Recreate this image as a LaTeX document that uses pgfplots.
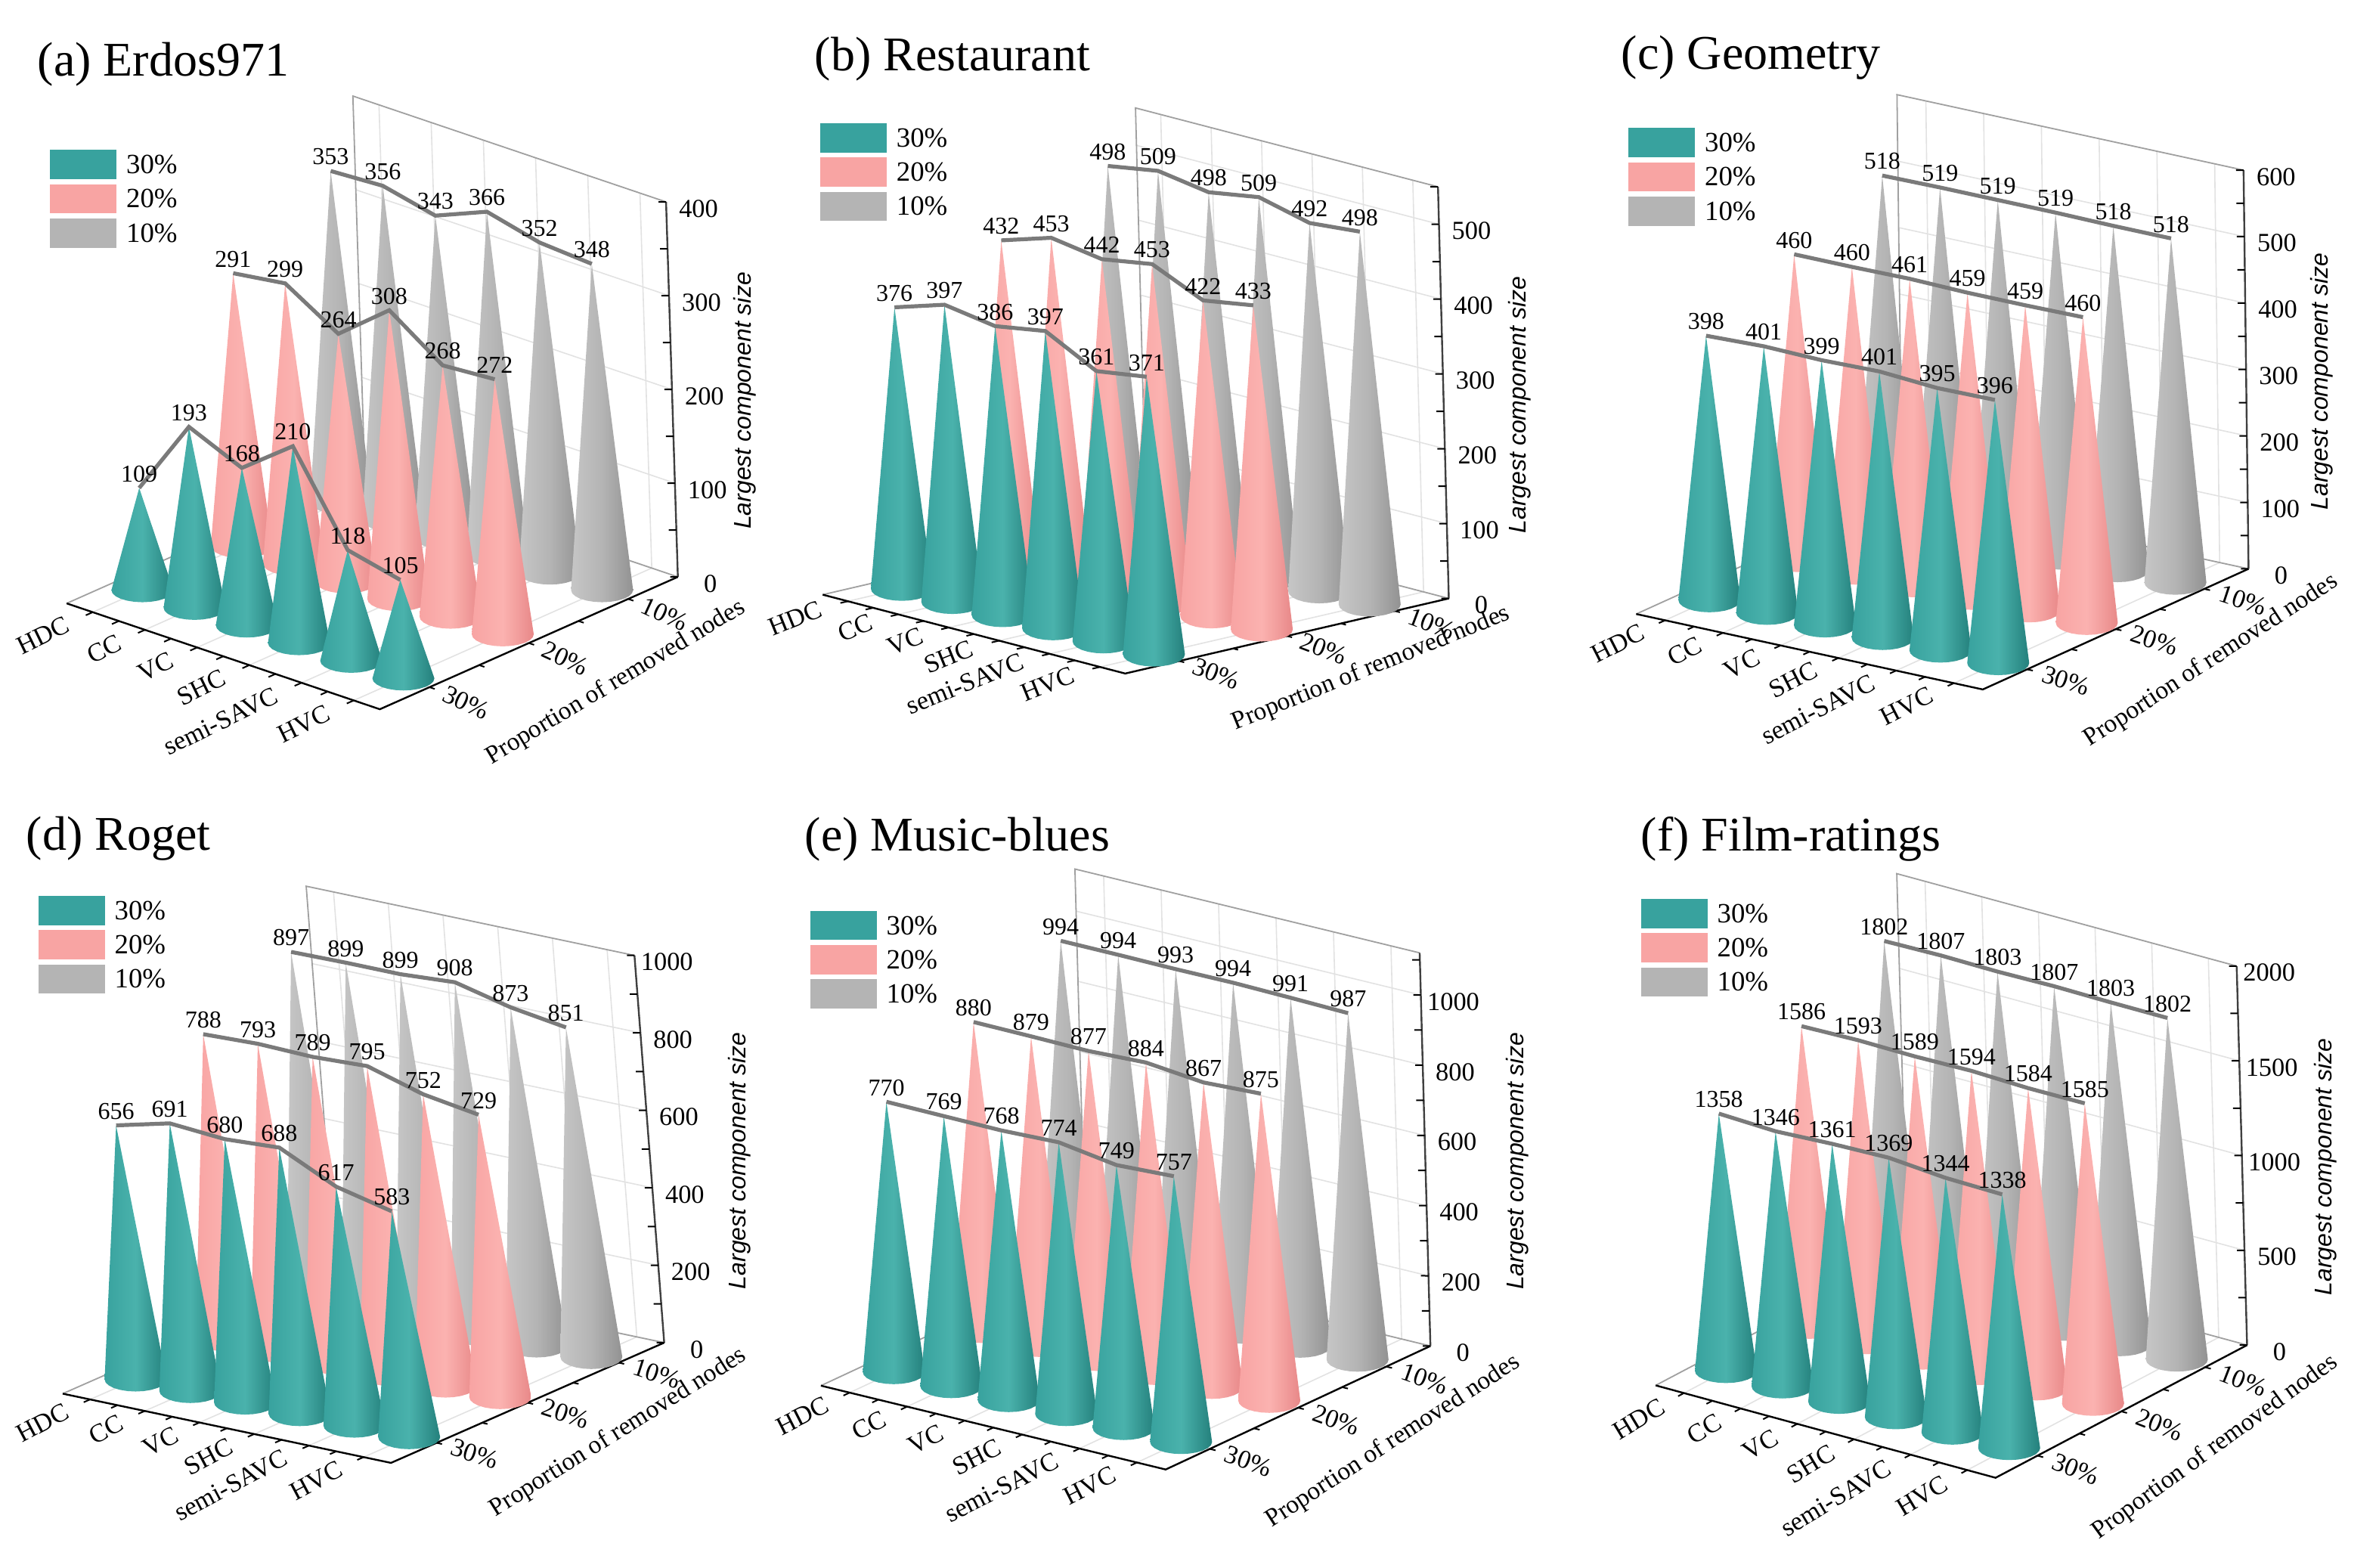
\documentclass[border=0pt]{standalone}
\usepackage{pgfplots}
\pgfplotsset{compat=1.18}
\usepackage{fontspec}
\setmainfont{Liberation Serif}
\newfontfamily\arialfont{Liberation Sans}
\newcommand\fz[1]{\fontsize{#1}{#1}\selectfont}

\definecolor{tealM}{RGB}{56,162,158}
\definecolor{tealL}{RGB}{74,178,172}
\definecolor{tealD}{RGB}{36,128,124}
\definecolor{pinkM}{RGB}{248,164,163}
\definecolor{pinkL}{RGB}{251,178,176}
\definecolor{pinkD}{RGB}{232,136,136}
\definecolor{grayM}{RGB}{180,180,180}
\definecolor{grayL}{RGB}{198,198,198}
\definecolor{grayD}{RGB}{146,146,146}
\definecolor{lineG}{RGB}{122,122,122}
\definecolor{gridG}{RGB}{226,226,226}
\definecolor{wallG}{RGB}{160,160,160}

\def\Wh{41}\def\Hh{16}

% geometry of one panel, in pixels of the reference (screen y downwards)
\newcommand\setgeom[7]{%
  \pgfmathsetmacro\exu{#1}\pgfmathsetmacro\exy{-1*(#2)}%
  \pgfmathsetmacro\eyu{#3}\pgfmathsetmacro\eyy{-1*(#4)}%
  \pgfmathsetmacro\ezu{#5}\pgfmathsetmacro\ezy{-1*(#6)}%
  \pgfmathsetmacro\detxy{\exu*\eyy-\eyu*\exy}%
  \pgfmathsetmacro\ah{\eyy/\detxy}\pgfmathsetmacro\bh{-\exy/\detxy}%
  \pgfmathsetmacro\angx{atan2(\exy,\exu)}%
  \pgfmathsetmacro\angy{atan2(\eyy,\eyu)}%
  \pgfmathsetmacro\xpu{0.25*\exu}\pgfmathsetmacro\xpv{0.25*\exy}%
  \pgfmathsetmacro\ypu{0.25*\eyu}\pgfmathsetmacro\ypv{0.25*\eyy}%
  \pgfmathsetmacro\zpu{0.25*\ezu}\pgfmathsetmacro\zpv{0.25*\ezy}%
  \pgfmathsetmacro\ztx{5.5-10*\ah}\pgfmathsetmacro\zty{2.5-10*\bh}%
  \def\zmax{#7}%
  \pgfmathsetmacro\ztitle{0.47*#7}%
}

\pgfplotsset{
  panel/.style={hide axis, clip=false, anchor=origin,
    x={(\xpu pt,\xpv pt)}, y={(\ypu pt,\ypv pt)}, z={(\zpu pt,\zpv pt)},
    xmin=-0.5, xmax=5.5, ymin=-0.5, ymax=2.5, zmin=0, zmax=\zmax,
    /pgf/number format/assume math mode=true,
    /pgf/number format/1000 sep={}},
  gridl/.style={color=gridG, line width=0.4pt, mark=none},
  walll/.style={color=wallG, line width=0.45pt, mark=none},
  axisl/.style={color=black, line width=0.6pt, mark=none},
  zaxisl/.style={color=black!75, line width=0.6pt, mark=none},
  tickl/.style={color=black, line width=0.5pt, mark=none},
  rowline/.style={color=lineG, line width=1.3pt, mark=none},
  c30/.style={draw=none, left color=tealM, right color=tealD, middle color=tealL},
  c20/.style={draw=none, left color=pinkM, right color=pinkD, middle color=pinkL},
  c10/.style={draw=none, left color=grayL, right color=grayD, middle color=grayM},
  vlabels/.style={draw=none, mark=none, nodes near coords, point meta=z,
    every node near coord/.append style={font=\fz{8}, text=black, inner sep=0pt, anchor=south, yshift=1.8pt}},
}
\tikzset{
  xlab/.style={font=\fz{8.6}, anchor=east, inner sep=1pt},
  ylab/.style={font=\fz{8.6}, anchor=west, inner sep=1pt},
  zlab/.style={font=\fz{8.6}, anchor=center, xshift=10.75pt, yshift=-2.2pt, inner sep=0pt},
  ztit/.style={font=\arialfont\itshape\fz{8}, anchor=center, inner sep=0pt},
  ytit/.style={font=\fz{8.4}, anchor=center, inner sep=0pt},
}

\newcommand\xname[1]{\ifcase#1 HDC\or CC\or VC\or SHC\or semi-SAVC\or HVC\fi}
\newcommand\yname[1]{\ifcase#1 30\%\or 20\%\or 10\%\fi}

% one cone: i, j, value, style
\newcommand\cone[4]{%
  \gdef\conepts{}%
  \foreach \aa in {180,195,...,360}{%
    \pgfmathsetmacro\du{\Wh*cos(\aa)}%
    \pgfmathsetmacro\dy{\Hh*sin(\aa)}%
    \pgfmathsetmacro\pa{#1+(\du*\eyy-\eyu*\dy)/\detxy}%
    \pgfmathsetmacro\pb{#2+(\exu*\dy-\exy*\du)/\detxy}%
    \xdef\conepts{\conepts(\pa,\pb,0) }%
  }%
  \edef\tmp{\noexpand\addplot3[#4] coordinates {(#1,#2,#3) \conepts};}%
  \tmp
}
\newcommand\conerow[3]{%
  \foreach \vv [count=\kk from 0] in {#3}{\cone{\kk}{#1}{\vv}{#2}}%
}

% floor, back wall, axes, ticks and their labels
\newcommand\cframe[3]{%
  \foreach \ii in {0,...,5}{\edef\tmp{\noexpand\addplot3[gridl] coordinates {(\ii,-0.5,0) (\ii,2.5,0)};}\tmp}%
  \foreach \jj in {0,1,2}{\edef\tmp{\noexpand\addplot3[gridl] coordinates {(-0.5,\jj,0) (5.5,\jj,0)};}\tmp}%
  \foreach \ii in {0,...,5}{\edef\tmp{\noexpand\addplot3[gridl] coordinates {(\ii,2.5,0) (\ii,2.5,\zmax)};}\tmp}%
  \foreach \zz in {#3}{\edef\tmp{\noexpand\addplot3[gridl] coordinates {(-0.5,2.5,\zz) (5.5,2.5,\zz)};}\tmp}%
  \edef\tmp{\noexpand\addplot3[walll] coordinates {(-0.5,-0.5,0) (-0.5,2.5,0) (-0.5,2.5,\zmax) (5.5,2.5,\zmax)};}\tmp
  \addplot3[walll] coordinates {(-0.5,2.5,0) (5.5,2.5,0)};
  \addplot3[axisl] coordinates {(-0.5,-0.5,0) (5.5,-0.5,0) (5.5,2.5,0)};
  \edef\tmp{\noexpand\addplot3[zaxisl] coordinates {(5.5,2.5,0) (5.5,2.5,\zmax)};}\tmp
  \foreach \ii in {0,0.5,1,1.5,2,2.5,3,3.5,4,4.5,5}{\edef\tmp{\noexpand\addplot3[tickl] coordinates {(\ii,-0.5,0) (\ii,-0.57,0)};}\tmp}%
  \foreach \jj in {0,0.5,1,1.5,2}{\edef\tmp{\noexpand\addplot3[tickl] coordinates {(5.5,\jj,0) (5.6,\jj,0)};}\tmp}%
  \foreach \zz in {#1}{\edef\tmp{\noexpand\addplot3[tickl] coordinates {(5.5,2.5,\zz) (\ztx,\zty,\zz)};}\tmp}%
  \foreach \ii in {0,...,5}{\edef\tmp{\noexpand\node[xlab, rotate=\xrot] at (axis cs:\ii,-0.72,0) {\noexpand\xname{\ii}};}\tmp}%
  \foreach \jj in {0,1,2}{\edef\tmp{\noexpand\node[ylab, rotate=\angx-6] at (axis cs:5.72,\jj,0) {\noexpand\yname{\jj}};}\tmp}%
  \foreach \zz in {#2}{\edef\tmp{\noexpand\node[zlab] at (axis cs:5.5,2.5,\zz) {\zz};}\tmp}%
  \edef\tmp{\noexpand\node[xshift=\ztshift pt, rotate=90, ztit] at (axis cs:5.5,2.5,\ztitle) {Largest component size};}\tmp
  \edef\tmp{\noexpand\node[xshift=2pt, yshift=-4pt, rotate=\ytrot, ytit] at (axis cs:7.05,1,0) {Proportion of removed nodes};}\tmp
}

\newcommand\legendbox[2]{%
  \fill[tealM] ({#1*0.25pt},{(2074-#2)*0.25pt}) rectangle ++(22pt,-9.65pt);
  \fill[pinkM] ({#1*0.25pt},{(2074-#2-45.3)*0.25pt}) rectangle ++(22pt,-9.65pt);
  \fill[grayM] ({#1*0.25pt},{(2074-#2-90.6)*0.25pt}) rectangle ++(22pt,-9.65pt);
  \node[anchor=west, font=\fz{9.2}, inner sep=0pt] at ({(#1+100)*0.25pt},{(2074-#2-19.3)*0.25pt}) {30\%};
  \node[anchor=west, font=\fz{9.2}, inner sep=0pt] at ({(#1+100)*0.25pt},{(2074-#2-64.6)*0.25pt}) {20\%};
  \node[anchor=west, font=\fz{9.2}, inner sep=0pt] at ({(#1+100)*0.25pt},{(2074-#2-109.9)*0.25pt}) {10\%};
}
\newcommand\ptitle[3]{\node[anchor=base west, font=\fz{16}, inner sep=0pt] at ({#1*0.25pt},{(2074-#2)*0.25pt}) {#3};}

\begin{document}
\begin{tikzpicture}
\path[use as bounding box] (0,0) rectangle (786.75pt,518.5pt);

% ---------------- (a) Erdos971
\setgeom{69.05}{23.34}{131.4}{-58.35}{-0.039}{-1.240}{400}
\def\ztshift{24}\def\xrot{26}\def\ytrot{31}
\begin{axis}[panel, at={({188.4*0.25pt},{(2074-780.6)*0.25pt})}]
\cframe{0,50,...,400}{0,100,...,400}{100,200,300}
\conerow{2}{c10}{353,356,343,366,352,348}
\addplot3[rowline] coordinates {(0,2,353) (1,2,356) (2,2,343) (3,2,366) (4,2,352) (5,2,348)};
\conerow{1}{c20}{291,299,264,308,268,272}
\addplot3[rowline] coordinates {(0,1,291) (1,1,299) (2,1,264) (3,1,308) (4,1,268) (5,1,272)};
\conerow{0}{c30}{109,193,168,210,118,105}
\addplot3[rowline] coordinates {(0,0,109) (1,0,193) (2,0,168) (3,0,210) (4,0,118) (5,0,105)};
\addplot3[vlabels] coordinates {(0,2,353) (1,2,356) (2,2,343) (3,2,366) (4,2,352) (5,2,348)};
\addplot3[vlabels] coordinates {(0,1,291) (1,1,299) (2,1,264) (3,1,308) (4,1,268) (5,1,272)};
\addplot3[vlabels] coordinates {(0,0,109) (1,0,193) (2,0,168) (3,0,210) (4,0,118) (5,0,105)};
\end{axis}
\legendbox{66.3}{198.4}
\ptitle{49}{101}{(a) Erdos971}

% ---------------- (b) Restaurant
\setgeom{66.69}{17.38}{142.68}{-33.1}{-0.026}{-0.990}{550}
\def\ztshift{25}\def\xrot{22}\def\ytrot{22}
\begin{axis}[panel, at={({1193.0*0.25pt},{(2074-778.75)*0.25pt})}]
\cframe{0,50,...,550}{0,100,...,500}{100,200,300,400,500}
\conerow{2}{c10}{498,509,498,509,492,498}
\addplot3[rowline] coordinates {(0,2,498) (1,2,509) (2,2,498) (3,2,509) (4,2,492) (5,2,498)};
\conerow{1}{c20}{432,453,442,453,422,433}
\addplot3[rowline] coordinates {(0,1,432) (1,1,453) (2,1,442) (3,1,453) (4,1,422) (5,1,433)};
\conerow{0}{c30}{376,397,386,397,361,371}
\addplot3[rowline] coordinates {(0,0,376) (1,0,397) (2,0,386) (3,0,397) (4,0,361) (5,0,371)};
\addplot3[vlabels] coordinates {(0,2,498) (1,2,509) (2,2,498) (3,2,509) (4,2,492) (5,2,498)};
\addplot3[vlabels] coordinates {(0,1,432) (1,1,453) (2,1,442) (3,1,453) (4,1,422) (5,1,433)};
\addplot3[vlabels] coordinates {(0,0,376) (1,0,397) (2,0,386) (3,0,397) (4,0,361) (5,0,371)};
\end{axis}
\legendbox{1085.1}{163.0}
\ptitle{1077}{94}{(b) Restaurant}

% ---------------- (c) Geometry
\setgeom{76.41}{16.63}{117.18}{-53.18}{-0.011}{-0.879}{600}
\def\ztshift{25}\def\xrot{27}\def\ytrot{33}
\begin{axis}[panel, at={({2261.2*0.25pt},{(2074-793.9)*0.25pt})}]
\cframe{0,50,...,600}{0,100,...,600}{100,200,300,400,500}
\conerow{2}{c10}{518,519,519,519,518,518}
\addplot3[rowline] coordinates {(0,2,518) (1,2,519) (2,2,519) (3,2,519) (4,2,518) (5,2,518)};
\conerow{1}{c20}{460,460,461,459,459,460}
\addplot3[rowline] coordinates {(0,1,460) (1,1,460) (2,1,461) (3,1,459) (4,1,459) (5,1,460)};
\conerow{0}{c30}{398,401,399,401,395,396}
\addplot3[rowline] coordinates {(0,0,398) (1,0,401) (2,0,399) (3,0,401) (4,0,395) (5,0,396)};
\addplot3[vlabels] coordinates {(0,2,518) (1,2,519) (2,2,519) (3,2,519) (4,2,518) (5,2,518)};
\addplot3[vlabels] coordinates {(0,1,460) (1,1,460) (2,1,461) (3,1,459) (4,1,459) (5,1,460)};
\addplot3[vlabels] coordinates {(0,0,398) (1,0,401) (2,0,399) (3,0,401) (4,0,395) (5,0,396)};
\end{axis}
\legendbox{2154.3}{169.4}
\ptitle{2144}{92}{(c) Geometry}

% ---------------- (d) Roget
\setgeom{72.37}{15.26}{120.48}{-53.0}{-0.0394}{-0.5122}{1000}
\def\ztshift{29.5}\def\xrot{28}\def\ytrot{32}
\begin{axis}[panel, at={({179.4*0.25pt},{(2074-1824.55)*0.25pt})}]
\cframe{0,100,...,1000}{0,200,...,1000}{200,400,600,800}
\conerow{2}{c10}{897,899,899,908,873,851}
\addplot3[rowline] coordinates {(0,2,897) (1,2,899) (2,2,899) (3,2,908) (4,2,873) (5,2,851)};
\conerow{1}{c20}{788,793,789,795,752,729}
\addplot3[rowline] coordinates {(0,1,788) (1,1,793) (2,1,789) (3,1,795) (4,1,752) (5,1,729)};
\conerow{0}{c30}{656,691,680,688,617,583}
\addplot3[rowline] coordinates {(0,0,656) (1,0,691) (2,0,680) (3,0,688) (4,0,617) (5,0,583)};
\addplot3[vlabels] coordinates {(0,2,897) (1,2,899) (2,2,899) (3,2,908) (4,2,873) (5,2,851)};
\addplot3[vlabels] coordinates {(0,1,788) (1,1,793) (2,1,789) (3,1,795) (4,1,752) (5,1,729)};
\addplot3[vlabels] coordinates {(0,0,656) (1,0,691) (2,0,680) (3,0,688) (4,0,617) (5,0,583)};
\end{axis}
\legendbox{50.8}{1185.1}
\ptitle{34}{1125}{(d) Roget}

% ---------------- (e) Music-blues
\setgeom{76.01}{18.48}{116.73}{-54.45}{-0.0127}{-0.4643}{1120}
\def\ztshift{30.5}\def\xrot{27}\def\ytrot{33}
\begin{axis}[panel, at={({1182.3*0.25pt},{(2074-1814.85)*0.25pt})}]
\cframe{0,100,...,1100}{0,200,...,1000}{200,400,600,800,1000}
\conerow{2}{c10}{994,994,993,994,991,987}
\addplot3[rowline] coordinates {(0,2,994) (1,2,994) (2,2,993) (3,2,994) (4,2,991) (5,2,987)};
\conerow{1}{c20}{880,879,877,884,867,875}
\addplot3[rowline] coordinates {(0,1,880) (1,1,879) (2,1,877) (3,1,884) (4,1,867) (5,1,875)};
\conerow{0}{c30}{770,769,768,774,749,757}
\addplot3[rowline] coordinates {(0,0,770) (1,0,769) (2,0,768) (3,0,774) (4,0,749) (5,0,757)};
\addplot3[vlabels] coordinates {(0,2,994) (1,2,994) (2,2,993) (3,2,994) (4,2,991) (5,2,987)};
\addplot3[vlabels] coordinates {(0,1,880) (1,1,879) (2,1,877) (3,1,884) (4,1,867) (5,1,875)};
\addplot3[vlabels] coordinates {(0,0,770) (1,0,769) (2,0,768) (3,0,774) (4,0,749) (5,0,757)};
\end{axis}
\legendbox{1071.8}{1204.9}
\ptitle{1064}{1126}{(e) Music-blues}

% ---------------- (f) Film-ratings
\setgeom{74.94}{20.37}{110.9}{-58.5}{-0.0069}{-0.2507}{2000}
\def\ztshift{27.5}\def\xrot{31}\def\ytrot{36}
\begin{axis}[panel, at={({2283.05*0.25pt},{(2074-1813.4)*0.25pt})}]
\cframe{0,250,...,2000}{0,500,...,2000}{500,1000,1500}
\conerow{2}{c10}{1802,1807,1803,1807,1803,1802}
\addplot3[rowline] coordinates {(0,2,1802) (1,2,1807) (2,2,1803) (3,2,1807) (4,2,1803) (5,2,1802)};
\conerow{1}{c20}{1586,1593,1589,1594,1584,1585}
\addplot3[rowline] coordinates {(0,1,1586) (1,1,1593) (2,1,1589) (3,1,1594) (4,1,1584) (5,1,1585)};
\conerow{0}{c30}{1358,1346,1361,1369,1344,1338}
\addplot3[rowline] coordinates {(0,0,1358) (1,0,1346) (2,0,1361) (3,0,1369) (4,0,1344) (5,0,1338)};
\addplot3[vlabels] coordinates {(0,2,1802) (1,2,1807) (2,2,1803) (3,2,1807) (4,2,1803) (5,2,1802)};
\addplot3[vlabels] coordinates {(0,1,1586) (1,1,1593) (2,1,1589) (3,1,1594) (4,1,1584) (5,1,1585)};
\addplot3[vlabels] coordinates {(0,0,1358) (1,0,1346) (2,0,1361) (3,0,1369) (4,0,1344) (5,0,1338)};
\end{axis}
\legendbox{2170.8}{1189.0}
\ptitle{2170}{1126}{(f) Film-ratings}
\end{tikzpicture}
\end{document}
